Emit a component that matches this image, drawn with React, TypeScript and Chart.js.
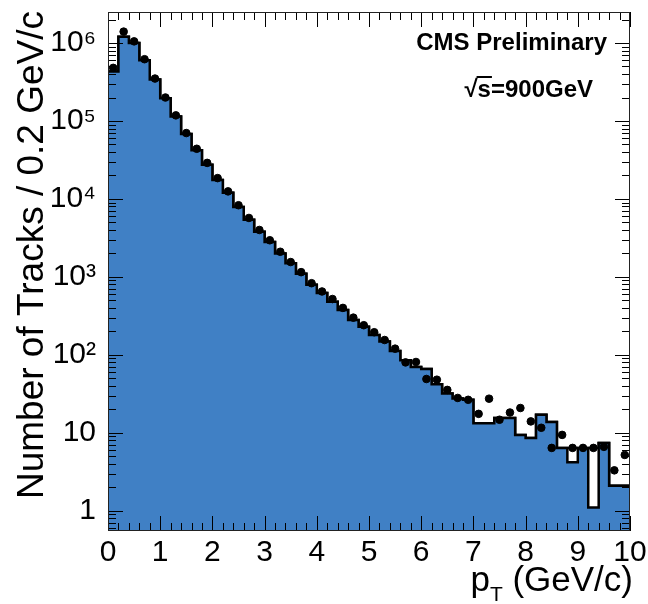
import React, { useEffect, useRef } from "react";
import { Chart, registerables } from "chart.js";

Chart.register(...registerables);

// Bin edges of the pT histogram (GeV/c)
const binEdges = [
  0, 0.2, 0.4, 0.6, 0.8, 1.0, 1.2, 1.4, 1.6, 1.8,
  2.0, 2.2, 2.4, 2.6, 2.8, 3.0, 3.2, 3.4, 3.6, 3.8,
  4.0, 4.2, 4.4, 4.6, 4.8, 5.0, 5.2, 5.4, 5.6, 5.8,
  6.0, 6.2, 6.4, 6.6, 6.8, 7.0, 7.2, 7.4, 7.6, 7.8,
  8.0, 8.2, 8.4, 8.6, 8.8, 9.0, 9.2, 9.4, 9.6, 9.8, 10.0,
];

// Simulation, filled histogram (tracks per bin)
const mcFill = [
  430000, 1200000, 1000000, 600000, 340000, 195000, 114000, 68000, 42000, 27500,
  17500, 12000, 7900, 5400, 3800, 2800, 2000, 1500, 1100, 790,
  620, 480, 375, 280, 230, 180, 148, 112, 85, 70,
  66, 42, 32, 27.5, 26.5, 13.3, 13.3, 15.5, 15.5, 9.4,
  8.6, 17, 13.8, 6.4, 4.2, 6.4, 1.1, 7.4, 2.1, 2.1,
];

// Second simulation, outline-only histogram (drawn beneath the filled one)
const mcLine = [
  430000, 1200000, 1000000, 600000, 340000, 195000, 114000, 68000, 42000, 27500,
  17500, 12000, 7900, 5400, 3800, 2800, 2000, 1500, 1100, 790,
  620, 480, 375, 280, 230, 180, 148, 112, 85, 70,
  66, 42, 32, 27.5, 26.5, 13.3, 13.3, 15.5, 15.5, 9.4,
  8.6, 17, 13.8, 6.4, 6.4, 6.4, 6.4, 7.4, 2.1, 2.1,
];

// Data points (tracks per bin)
const dataCounts = [
  480000, 1400000, 1050000, 620000, 350000, 200000, 118000, 70000, 44000, 29000,
  18500, 12500, 8300, 5700, 4000, 2950, 2100, 1550, 1150, 830,
  650, 520, 400, 300, 240, 195, 155, 120, 80, 81,
  49, 48, 35.5, 28, 26.5, 17.5, 27.4, 14.7, 18.2, 20.8,
  14, 11.6, 6.4, 9.4, 6.4, 6.4, 6.4, 6.6, 3.3, 5.2,
];

const yTickValues = [1, 10, 100, 1000, 10000, 100000, 1000000];
const yTickLabels = ["1", "10", "10²", "10³", "10⁴", "10⁵", "10⁶"];
const xTickValues = [0, 1, 2, 3, 4, 5, 6, 7, 8, 9, 10];

const FONT = "'Liberation Sans', Arial, Helvetica, sans-serif";
const BLUE = "rgb(64,128,197)";

const stepPoints = (vals: number[]) => {
  const pts = vals.map((v, i) => ({ x: binEdges[i], y: v }));
  pts.push({ x: binEdges[binEdges.length - 1], y: vals[vals.length - 1] });
  return pts;
};

const framePlugin = {
  id: "frameTicks",
  afterDatasetsDraw(chart: any) {
    const { ctx, chartArea: a, scales } = chart;
    const x = scales.x;
    const y = scales.y;
    ctx.save();
    ctx.strokeStyle = "#000";
    ctx.lineWidth = 1;
    ctx.beginPath();
    for (let i = 0; i < binEdges.length; i++) {
      const px = Math.round(x.getPixelForValue(binEdges[i])) + 0.5;
      const major = i % 5 === 0;
      const len = major ? 15 : 8;
      ctx.moveTo(px, a.bottom);
      ctx.lineTo(px, a.bottom - len);
      ctx.moveTo(px, a.top);
      ctx.lineTo(px, a.top + len);
    }
    for (let d = -1; d <= 6; d++) {
      for (let m = 1; m <= 9; m++) {
        const v = m * Math.pow(10, d);
        if (v < y.min || v > y.max) continue;
        const py = Math.round(y.getPixelForValue(v)) + 0.5;
        const len = m === 1 ? 15 : 8;
        ctx.moveTo(a.left, py);
        ctx.lineTo(a.left + len, py);
        ctx.moveTo(a.right, py);
        ctx.lineTo(a.right - len, py);
      }
    }
    ctx.stroke();
    ctx.strokeStyle = "#222";
    ctx.strokeRect(a.left + 0.5, a.top + 0.5, a.right - a.left - 1, a.bottom - a.top - 1);
    ctx.restore();
  },
  afterDraw(chart: any) {
    const { ctx } = chart;
    ctx.save();
    ctx.fillStyle = "#000";
    // y-axis title
    ctx.save();
    ctx.translate(43, 255);
    ctx.rotate(-Math.PI / 2);
    ctx.font = `37px ${FONT}`;
    ctx.textAlign = "center";
    ctx.textBaseline = "alphabetic";
    ctx.fillText("Number of Tracks / 0.2 GeV/c", 0, 0);
    ctx.restore();
    // x-axis title: p_T (GeV/c)
    ctx.font = `35px ${FONT}`;
    ctx.textBaseline = "alphabetic";
    ctx.textAlign = "left";
    const rest = " (GeV/c)";
    const wRest = ctx.measureText(rest).width;
    const wP = ctx.measureText("p").width;
    ctx.font = `21px ${FONT}`;
    const wT = ctx.measureText("T").width;
    const xEnd = 633;
    const xStart = xEnd - wRest - wT - wP;
    ctx.font = `35px ${FONT}`;
    ctx.fillText("p", xStart, 591);
    ctx.font = `21px ${FONT}`;
    ctx.fillText("T", xStart + wP, 601);
    ctx.font = `35px ${FONT}`;
    ctx.fillText(rest, xStart + wP + wT, 591);
    // Labels
    ctx.font = `bold 24px ${FONT}`;
    ctx.textAlign = "right";
    ctx.fillText("CMS Preliminary", 607, 50);
    ctx.fillText("√s=900GeV", 593, 97);
    // overline of the square root
    const wRoot = ctx.measureText("s=900GeV").width;
    const sW = ctx.measureText("s").width;
    ctx.fillRect(593 - wRoot - 1, 76, sW + 2, 2);
    ctx.restore();
  },
};

export default function App() {
  const ref = useRef<HTMLCanvasElement | null>(null);
  useEffect(() => {
    document.body.style.margin = "0";
    const canvas = ref.current;
    if (!canvas) return;
    const chart = new Chart(canvas, {
      type: "line",
      data: {
        datasets: [
          {
            label: "MC outline",
            data: stepPoints(mcLine),
            stepped: "before",
            borderColor: "#000",
            borderWidth: 2.5,
            pointRadius: 0,
            fill: false,
            order: 2,
          } as any,
          {
            label: "MC",
            data: stepPoints(mcFill),
            stepped: "before",
            borderColor: "#000",
            borderWidth: 2.5,
            backgroundColor: BLUE,
            pointRadius: 0,
            fill: "start",
            order: 1,
          } as any,
          {
            type: "scatter",
            label: "Data",
            data: dataCounts.map((v, i) => ({ x: (binEdges[i] + binEdges[i + 1]) / 2, y: v })),
            pointRadius: 3.8,
            pointBackgroundColor: "#000",
            pointBorderColor: "#000",
            showLine: false,
            order: 0,
          } as any,
        ],
      },
      options: {
        animation: false,
        responsive: false,
        devicePixelRatio: 1,
        layout: { padding: { left: 0, right: 18, top: 12, bottom: 0 } },
        plugins: { legend: { display: false }, tooltip: { enabled: false } },
        scales: {
          x: {
            type: "linear",
            min: 0,
            max: 10,
            afterFit: (s: any) => {
              s.height = 73;
              s.paddingLeft = 0;
              s.paddingRight = 0;
            },
            afterBuildTicks: (s: any) => {
              s.ticks = xTickValues.map((v) => ({ value: v }));
            },
            ticks: {
              font: { size: 30, family: FONT },
              color: "#000",
              padding: 4,
              maxRotation: 0,
              autoSkip: false,
              callback: (v: any) => String(v),
            },
            grid: { display: false, drawTicks: false },
            border: { display: false },
          },
          y: {
            type: "logarithmic",
            min: 0.55,
            max: 2.5e6,
            afterFit: (s: any) => {
              s.width = 108;
              s.paddingTop = 0;
              s.paddingBottom = 0;
            },
            afterBuildTicks: (s: any) => {
              s.ticks = yTickValues.map((v) => ({ value: v }));
            },
            ticks: {
              font: { size: 30, family: FONT },
              color: "#000",
              padding: 12,
              autoSkip: false,
              callback: (v: any) => {
                const i = yTickValues.indexOf(Number(v));
                return i >= 0 ? yTickLabels[i] : "";
              },
            },
            grid: { display: false, drawTicks: false },
            border: { display: false },
          },
        },
      },
      plugins: [framePlugin],
    });
    return () => chart.destroy();
  }, []);
  return (
    <div style={{ width: 648, height: 604, background: "#fff" }}>
      <canvas ref={ref} width={648} height={604} style={{ display: "block" }} />
    </div>
  );
}
